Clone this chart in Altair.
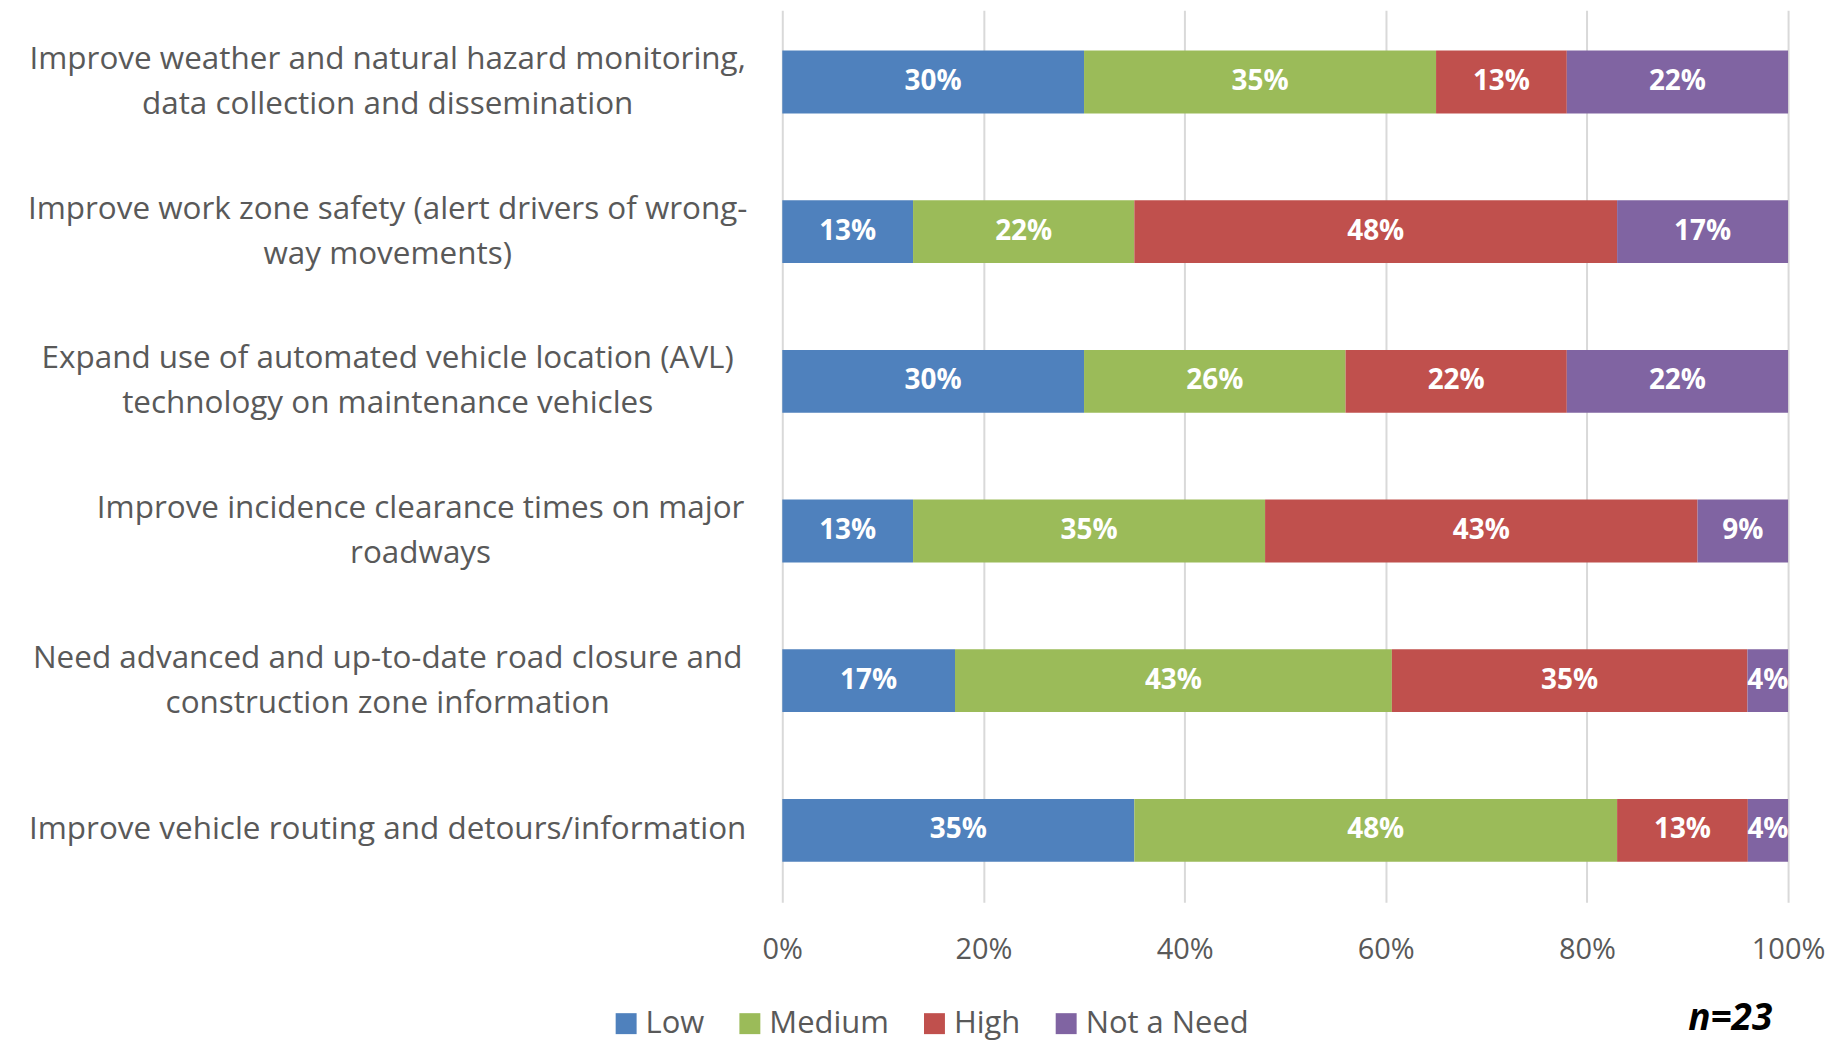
import altair as alt
import pandas as pd

categories = [
    "Improve weather and natural hazard monitoring,\ndata collection and dissemination",
    "Improve work zone safety (alert drivers of wrong-\nway movements)",
    "Expand use of automated vehicle location (AVL)\ntechnology on maintenance vehicles",
    "Improve incidence clearance times on major\nroadways",
    "Need advanced and up-to-date road closure and\nconstruction zone information",
    "Improve vehicle routing and detours/information",
]
levels = ["Low", "Medium", "High", "Not a Need"]
colors = ["#4F81BD", "#9BBB59", "#C0504D", "#8064A2"]

low = [30, 13, 30, 13, 17, 35]
medium = [35, 22, 26, 35, 43, 48]
high = [13, 48, 22, 43, 35, 13]
not_need = [22, 17, 22, 9, 4, 4]
n_label = "n=23"

series = [low, medium, high, not_need]
rows = []
for ci, cat in enumerate(categories):
    for li, lev in enumerate(levels):
        rows.append({"task": cat, "level": lev, "value": series[li][ci], "order": li})
df = pd.DataFrame(rows)

FONT = "Open Sans"
GRAY = "#595959"

y_enc = alt.Y(
    "task:N",
    sort=categories,
    title=None,
    scale=alt.Scale(paddingInner=0.58, paddingOuter=0.27),
    axis=alt.Axis(
        domain=False,
        ticks=False,
        tickSize=0,
        grid=False,
        labelAlign="center",
        labelBaseline="middle",
        labelExpr="split(datum.label, '\\n')",
        labelLineHeight=45,
        labelFont=FONT,
        labelFontSize=31.5,
        labelColor=GRAY,
        labelLimit=0,
        labelOffset={"condition": {"test": "indexof(datum.label, '\\n') >= 0", "value": -22}, "value": 0},
        labelPadding={"condition": {"test": "indexof(datum.label, 'incidence') >= 0", "value": 363}, "value": 396},
    ),
)

base = alt.Chart(df).transform_stack(
    stack="value",
    groupby=["task"],
    as_=["x0", "x1"],
    offset="normalize",
    sort=[alt.SortField("order", order="ascending")],
).transform_calculate(
    mid="(datum.x0 + datum.x1) / 2",
    lbl="datum.value + '%'",
)

bars = base.mark_bar().encode(
    y=y_enc,
    x=alt.X(
        "x0:Q",
        title=None,
        scale=alt.Scale(domain=[0, 1], nice=False),
        axis=alt.Axis(
            values=[0, 0.2, 0.4, 0.6, 0.8, 1.0],
            format=".0%",
            domain=False,
            ticks=False,
            grid=True,
            gridColor="#D9D9D9",
            gridWidth=2,
            labelFlush=False,
            labelFont=FONT,
            labelFontSize=29,
            labelColor=GRAY,
            labelPadding=33,
        ),
    ),
    x2="x1:Q",
    color=alt.Color(
        "level:N",
        sort=levels,
        scale=alt.Scale(domain=levels, range=colors),
        legend=alt.Legend(
            title=None,
            orient="none",
            legendX=-172,
            legendY=1000,
            direction="horizontal",
            columns=4,
            symbolType="square",
            symbolSize=441,
            symbolStrokeWidth=0,
            labelFont=FONT,
            labelFontSize=31,
            labelColor=GRAY,
            labelLimit=0,
            labelOffset=4,
            columnPadding=30,
            padding=0,
        ),
    ),
    order=alt.Order("order:Q"),
)

texts = base.mark_text(
    color="white", font=FONT, fontWeight="bold", fontSize=28, baseline="middle"
).encode(
    y=alt.Y("task:N", sort=categories),
    x=alt.X("mid:Q"),
    text="lbl:N",
)

nchart = alt.Chart(pd.DataFrame({"t": [n_label]})).mark_text(
    font=FONT, fontWeight="bold", fontStyle="italic", fontSize=37, color="black", baseline="middle"
).encode(text="t:N", x=alt.value(950), y=alt.value(1011))

chart = alt.layer(bars, texts, nchart).properties(
    width=1008,
    height=894,
    autosize=alt.AutoSizeParams(type="none"),
    padding={"left": 776, "top": 1, "right": 38, "bottom": 139},
).configure_view(stroke=None)

chart.save("out.html", embed_options={"renderer": "svg", "actions": False})
